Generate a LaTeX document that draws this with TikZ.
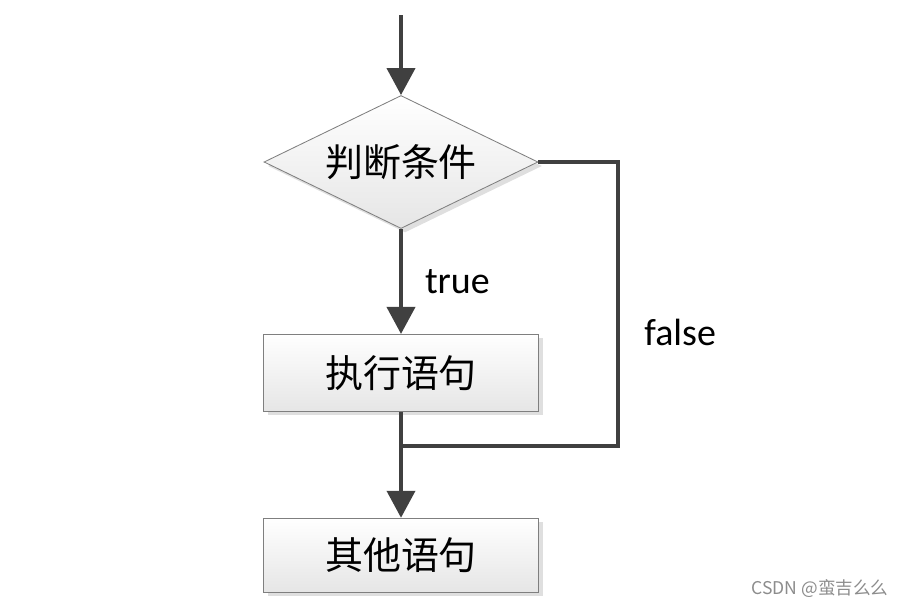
\documentclass[tikz,border=0pt]{standalone}
\usepackage{fontspec}
\setmainfont{Carlito}
\newfontfamily\cjk{Noto Sans CJK SC}
\usepackage{tikz}
\usetikzlibrary{shapes.geometric, arrows.meta, positioning, shadows}

\definecolor{linegray}{HTML}{404040}
\definecolor{edgegray}{HTML}{7F7F7F}

\begin{document}
\begin{tikzpicture}[
    node distance=2cm,
    block/.style={rectangle, draw=edgegray, line width=0.6pt, top color=white, bottom color=black!10,
        drop shadow={shadow xshift=0.1cm, shadow yshift=-0.1cm, opacity=0.25},
        minimum width=6.875cm, inner sep=0pt, font=\cjk\fontsize{27}{32}\selectfont},
    decision/.style={diamond, aspect=2.06, draw=edgegray, line width=0.6pt, top color=white, bottom color=black!10,
        drop shadow={shadow xshift=0.1cm, shadow yshift=-0.1cm, opacity=0.25},
        minimum width=6.85cm, minimum height=3.325cm, inner sep=0pt, font=\cjk\fontsize{27}{32}\selectfont},
    line/.style={draw=linegray, line width=0.1cm},
    arrow/.style={line, -{Triangle[length=0.675cm, width=0.7cm]}},
    tag/.style={inner sep=0pt, font=\fontsize{27}{32}\selectfont}
]
    \useasboundingbox (0,0) rectangle (22.6,-15.2);

    % Nodes
    \node[decision] (cond) at (10.025,-4.05) {判断条件};
    \node[block, minimum height=1.925cm, below=2.625cm of cond] (exec) {执行语句};
    \node[block, minimum height=1.85cm, below=2.65cm of exec] (other) {其他语句};
    \coordinate[above=2cm of cond.north] (start);
    \coordinate[below=0.85cm of exec.south] (merge);

    % Arrows
    \draw[arrow] (start) -- (cond.north);
    \draw[arrow] (cond.south) -- node[tag, right=0.55cm] {true} (exec.north);
    \draw[line] (cond.east) -- ++(2,0) |- node[tag, pos=0.3, right=0.6cm] {false} (merge);
    \draw[arrow] (exec.south) -- (other.north);

    % Watermark
    \node[font=\cjk\fontsize{12.5}{14}\selectfont, text=black!45, inner sep=0pt] (mark) at (20.5,-14.72) {CSDN @蛮吉么么};
\end{tikzpicture}
\end{document}
